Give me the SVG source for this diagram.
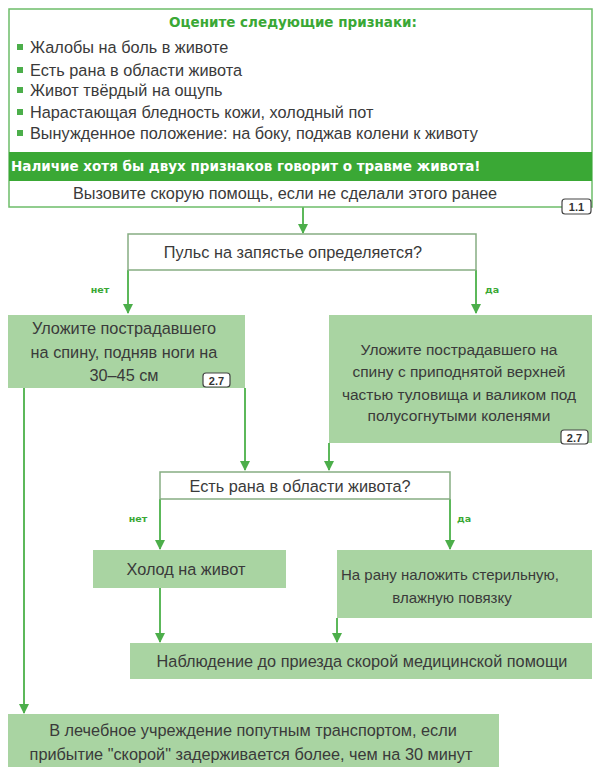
<svg xmlns="http://www.w3.org/2000/svg" width="595" height="767" viewBox="0 0 595 767">
<style>
text{font-family:"Liberation Sans","DejaVu Sans",sans-serif;fill:#3a3a3a;font-size:16.3px}
.c{text-anchor:middle}
.s{font-size:15.5px}
.s2{font-size:15px}
.t{font-family:"DejaVu Sans",sans-serif;font-weight:bold;fill:#3aa835;font-size:13.5px}
.w{font-family:"DejaVu Sans",sans-serif;font-weight:bold;fill:#fff;font-size:13.5px}
.lbl{font-family:"DejaVu Sans",sans-serif;font-weight:bold;fill:#3aa835;font-size:9.5px}
.box{fill:#a9d4a2}
.q{fill:#fff;stroke:#86ad82;stroke-width:1.5}
.ln{stroke:#5cb85a;stroke-width:2;fill:none}
.bd{fill:#fff;stroke:#444;stroke-width:1.2}
.bt{font-weight:bold;font-size:11px;fill:#333;text-anchor:middle}
</style>
<defs>
<marker id="ah" viewBox="0 0 10 10" refX="9" refY="5" markerWidth="5" markerHeight="5" orient="auto" markerUnits="strokeWidth">
<path d="M0,0 L10,5 L0,10 z" fill="#4cae4a"/>
</marker>
</defs>
<rect width="595" height="767" fill="#fff"/>
<g id="connectors">
<line class="ln" x1="303" y1="207" x2="303" y2="233" marker-end="url(#ah)"/>
<line class="ln" x1="128" y1="270" x2="128" y2="313" marker-end="url(#ah)"/>
<line class="ln" x1="476" y1="270" x2="476" y2="313" marker-end="url(#ah)"/>
<line class="ln" x1="245" y1="388" x2="245" y2="470" marker-end="url(#ah)"/>
<line class="ln" x1="329" y1="443" x2="329" y2="470" marker-end="url(#ah)"/>
<line class="ln" x1="24" y1="388" x2="24" y2="713" marker-end="url(#ah)"/>
<line class="ln" x1="160" y1="499" x2="160" y2="549" marker-end="url(#ah)"/>
<line class="ln" x1="450" y1="499" x2="450" y2="549" marker-end="url(#ah)"/>
<line class="ln" x1="160" y1="588" x2="160" y2="642" marker-end="url(#ah)"/>
<line class="ln" x1="337" y1="618" x2="337" y2="642" marker-end="url(#ah)"/>
<text class="lbl c" x="100" y="293">нет</text>
<text class="lbl" x="485" y="293">да</text>
<text class="lbl c" x="138" y="522">нет</text>
<text class="lbl" x="457" y="522">да</text>
</g>
<g id="signs">
<rect x="9" y="9" width="583" height="198" fill="#fff" stroke="#6dbd69" stroke-width="1.5"/>
<text class="t c" x="293" y="27">Оцените следующие признаки:</text>
<g fill="#4cae4a">
<rect x="17" y="44" width="6" height="6"/>
<rect x="17" y="67" width="6" height="6"/>
<rect x="17" y="87" width="6" height="6"/>
<rect x="17" y="109" width="6" height="6"/>
<rect x="17" y="130" width="6" height="6"/>
</g>
<text x="30" y="53">Жалобы на боль в животе</text>
<text x="30" y="76">Есть рана в области живота</text>
<text x="30" y="96">Живот твёрдый на ощупь</text>
<text x="30" y="118">Нарастающая бледность кожи, холодный пот</text>
<text x="30" y="139">Вынужденное положение: на боку, поджав колени к животу</text>
<rect x="9" y="152" width="583" height="29" fill="#3aa835"/>
<text class="w" x="11" y="171">Наличие хотя бы двух признаков говорит о травме живота!</text>
<text class="c" x="285" y="199">Вызовите скорую помощь, если не сделали этого ранее</text>
<rect class="bd" x="562" y="199" width="29" height="15" rx="3"/>
<text class="bt" x="576.5" y="210.5">1.1</text>
</g>
<g id="pulse">
<rect class="q" x="128" y="234" width="348" height="36"/>
<text class="c" x="293" y="258">Пульс на запястье определяется?</text>
</g>
<g id="legs-up">
<rect class="box" x="8" y="315" width="237" height="73"/>
<text class="c" x="124" y="334">Уложите пострадавшего</text>
<text class="c" x="124" y="358">на спину, подняв ноги на</text>
<text class="c" x="124" y="381">30–45 см</text>
<rect class="bd" x="203" y="373" width="27" height="14" rx="3"/>
<text class="bt" x="216.5" y="384.5">2.7</text>
</g>
<g id="torso-up">
<rect class="box" x="329" y="315" width="263" height="128"/>
<text class="c s" x="459" y="355">Уложите пострадавшего на</text>
<text class="c s" x="459" y="377">спину с приподнятой верхней</text>
<text class="c s" x="459" y="400">частью туловища и валиком под</text>
<text class="c s" x="459" y="421">полусогнутыми коленями</text>
<rect class="bd" x="561" y="430" width="27" height="14" rx="3"/>
<text class="bt" x="574.5" y="441.5">2.7</text>
</g>
<g id="wound">
<rect class="q" x="160" y="472" width="290" height="27"/>
<text class="c" x="300" y="492">Есть рана в области живота?</text>
</g>
<g id="cold">
<rect class="box" x="93" y="550" width="193" height="38"/>
<text class="c" x="186" y="575">Холод на живот</text>
</g>
<g id="bandage">
<rect class="box" x="337" y="550" width="255" height="68"/>
<text class="c s2" x="450" y="580">На рану наложить стерильную,</text>
<text class="c s2" x="452" y="603">влажную повязку</text>
</g>
<g id="observe">
<rect class="box" x="130" y="643" width="462" height="36"/>
<text class="c" x="362" y="667">Наблюдение до приезда скорой медицинской помощи</text>
</g>
<g id="hospital">
<rect class="box" x="8" y="714" width="491" height="53"/>
<text class="c" x="253" y="736">В лечебное учреждение попутным транспортом, если</text>
<text class="c" x="251" y="760">прибытие "скорой" задерживается более, чем на 30 минут</text>
</g>
</svg>
